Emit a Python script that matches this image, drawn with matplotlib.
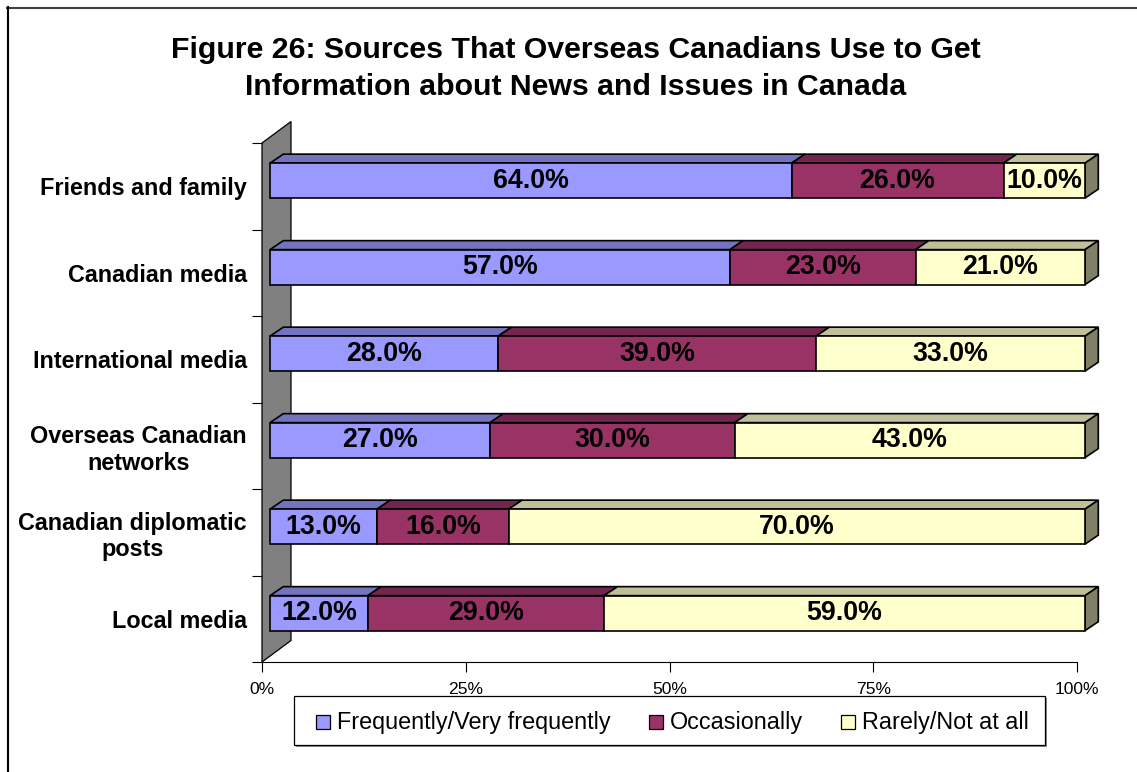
import matplotlib
matplotlib.use('Agg')
import matplotlib.pyplot as plt
from matplotlib.patches import Polygon, Rectangle
from matplotlib.lines import Line2D

categories = ["Friends and family", "Canadian media", "International media",
              "Overseas Canadian\nnetworks", "Canadian diplomatic\nposts", "Local media"]
series_names = ["Frequently/Very frequently", "Occasionally", "Rarely/Not at all"]
frequently = [64.0, 57.0, 28.0, 27.0, 13.0, 12.0]
occasionally = [26.0, 23.0, 39.0, 30.0, 16.0, 29.0]
rarely = [10.0, 21.0, 33.0, 43.0, 70.0, 59.0]
x_ticks = [0, 25, 50, 75, 100]
x_tick_labels = ["0%", "25%", "50%", "75%", "100%"]
title_lines = ["Figure 26: Sources That Overseas Canadians Use to Get",
               "Information about News and Issues in Canada"]

front_colors = ['#9999FF', '#993366', '#FFFFCC']
top_colors = ['#7373BF', '#73264D', '#BFBF99']
side_colors = ['#4D4D80', '#4D1A33', '#808066']

plt.rcParams['font.family'] = ['Liberation Sans', 'DejaVu Sans']

W, H = 1137, 772
fig = plt.figure(figsize=(W / 100, H / 100), dpi=100)

def fx(px):
    return px / W

def fy(py):
    return 1 - py / H

# axes: 0..100% spans px 262..1077, categories span py 143..662
ax = fig.add_axes([fx(262), fy(662), 815 / W, 519 / H])
ax.set_xlim(0, 100)
n = len(categories)
ax.set_ylim(n - 0.5, -0.5)

PX_X = 815 / 100.0   # px per percent
PX_Y = 519 / n       # px per category

front_dx = 8 / PX_X
depth_dx = 13.3 / PX_X
depth_dy = -9 / PX_Y
bar_h = 35 / PX_Y
bar_off = -5.6 / PX_Y
lw = 1.2

# back wall
wall_dx = 29 / PX_X
wall_dy = -21.5 / PX_Y
wall = Polygon([(0, -0.5), (wall_dx, -0.5 + wall_dy), (wall_dx, n - 0.5 + wall_dy), (0, n - 0.5)],
               closed=True, facecolor='#808080', edgecolor='black', linewidth=0.9,
               clip_on=False, zorder=1)
ax.add_patch(wall)

series = [frequently, occasionally, rarely]
for i in range(n):
    vals = [s[i] for s in series]
    total = sum(vals)
    left = front_dx
    yc = i + bar_off
    ytop = yc - bar_h / 2
    for j, v in enumerate(vals):
        w = v / total * 100.0
        top = Polygon([(left, ytop), (left + depth_dx, ytop + depth_dy),
                       (left + w + depth_dx, ytop + depth_dy), (left + w, ytop)],
                      closed=True, facecolor=top_colors[j], edgecolor='black',
                      linewidth=lw, clip_on=False, zorder=2)
        ax.add_patch(top)
        bars = ax.barh(yc, w, left=left, height=bar_h, color=front_colors[j],
                       edgecolor='black', linewidth=lw, zorder=3)
        for p in bars:
            p.set_clip_on(False)
        if j == len(vals) - 1:
            side = Polygon([(left + w, ytop), (left + w + depth_dx, ytop + depth_dy),
                            (left + w + depth_dx, ytop + bar_h + depth_dy), (left + w, ytop + bar_h)],
                           closed=True, facecolor=side_colors[j], edgecolor='black',
                           linewidth=lw, clip_on=False, zorder=2)
            ax.add_patch(side)
        ax.text(left + w / 2, yc, f"{v:.1f}%", ha='center', va='center',
                fontsize=19.3, fontweight='bold', color='black', zorder=5, clip_on=False)
        left += w

# axes styling
for s in ['left', 'top', 'right']:
    ax.spines[s].set_visible(False)
ax.spines['bottom'].set_color('black')
ax.spines['bottom'].set_linewidth(0.8)
ax.set_xticks(x_ticks)
ax.set_xticklabels(x_tick_labels, fontsize=12.6)
ax.tick_params(axis='x', direction='out', length=7.2, width=0.8, pad=7, colors='black')
ax.set_yticks(range(n))
ax.set_yticklabels(categories, fontsize=16.8, fontweight='bold', ha='right', multialignment='center')
ax.tick_params(axis='y', which='major', length=0, pad=10.8)
ax.set_yticks([k - 0.5 for k in range(n + 1)], minor=True)
ax.tick_params(axis='y', which='minor', direction='out', length=7.2, width=0.8, colors='black')
ax.set_facecolor('none')

# title
for k, t in enumerate(title_lines):
    fig.text(fx(576), fy(50 + 37 * k), t, ha='center', va='center',
             fontsize=21.8, fontweight='bold')

# outer border (chart area frame)
fig.add_artist(Line2D([fx(7), fx(W)], [fy(7.5), fy(7.5)], color='#404040', linewidth=1.5))
fig.add_artist(Line2D([fx(7.5), fx(7.5)], [fy(7), fy(H)], color='black', linewidth=1.5))

# legend (manual, Excel-like)
lx0, ly0, lx1, ly1 = 294, 696, 1045, 745
fig.add_artist(Rectangle((fx(lx0 + 2), fy(ly1 + 2)), (lx1 - lx0) / W, (ly1 - ly0) / H,
                         transform=fig.transFigure, facecolor='#909090', edgecolor='none'))
fig.add_artist(Rectangle((fx(lx0), fy(ly1)), (lx1 - lx0) / W, (ly1 - ly0) / H,
                         transform=fig.transFigure, facecolor='white', edgecolor='black', linewidth=0.9))
entry_x = [316, 649, 841]
sq = 14
ymid = 722
for j, name in enumerate(series_names):
    fig.add_artist(Rectangle((fx(entry_x[j]), fy(ymid + sq / 2)), sq / W, sq / H,
                             transform=fig.transFigure, facecolor=front_colors[j],
                             edgecolor='black', linewidth=0.9))
    fig.text(fx(entry_x[j] + sq + 7), fy(ymid), name, ha='left', va='center', fontsize=16.8)

fig.savefig('out.png', dpi=100)
